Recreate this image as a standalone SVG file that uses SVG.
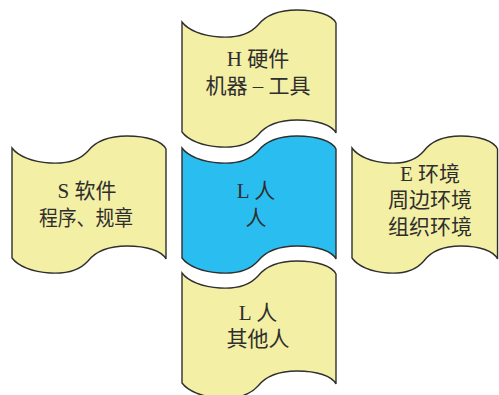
<svg xmlns="http://www.w3.org/2000/svg" xmlns:xlink="http://www.w3.org/1999/xlink" width="499" height="395" viewBox="0 0 499 395">
<defs>
<style>
.y{fill:#F3EFA4;stroke:#2f2f2f;stroke-width:1.4;}
.b{fill:#29BEEF;stroke:#2f2f2f;stroke-width:1.4;}
text{font-family:"Liberation Serif","Noto Sans CJK SC",serif;font-size:21px;fill:#2e2e2e;text-anchor:middle;}
</style>
<path id="flag" vector-effect="non-scaling-stroke" d="M0,0 C6,8 20,14 38,15 C55,16 68,12 76,3 C84,-7 98,-12 115,-12 C135,-12 150,-7 154,1 L154,111 C150,103 135,98 115,98 C98,98 84,103 76,113 C68,122 55,126 38,125 C20,124 6,118 0,110 Z"/>
</defs>
<rect width="499" height="395" fill="#fff"/>
<g id="connectors"/>
<g id="node-H">
<use xlink:href="#flag" href="#flag" class="y" transform="translate(182,22)"/>
<text x="258" y="66">H 硬件</text>
<text x="258" y="93">机器 – 工具</text>
</g>
<g id="node-L-center">
<use xlink:href="#flag" href="#flag" class="b" transform="translate(182,148)"/>
<text x="256" y="198">L 人</text>
<text x="256" y="225">人</text>
</g>
<g id="node-L-bottom">
<use xlink:href="#flag" href="#flag" class="y" transform="translate(182,273)"/>
<text x="258" y="320">L 人</text>
<text x="258" y="346">其他人</text>
</g>
<g id="node-S">
<use xlink:href="#flag" href="#flag" class="y" transform="translate(12,148)"/>
<text x="87" y="198">S 软件</text>
<text x="86" y="225" textLength="94" lengthAdjust="spacingAndGlyphs">程序、规章</text>
</g>
<g id="node-E">
<use xlink:href="#flag" href="#flag" class="y" transform="translate(352,148) scale(0.945,1)"/>
<text x="430" y="181">E 环境</text>
<text x="430" y="207">周边环境</text>
<text x="430" y="234">组织环境</text>
</g>
</svg>
